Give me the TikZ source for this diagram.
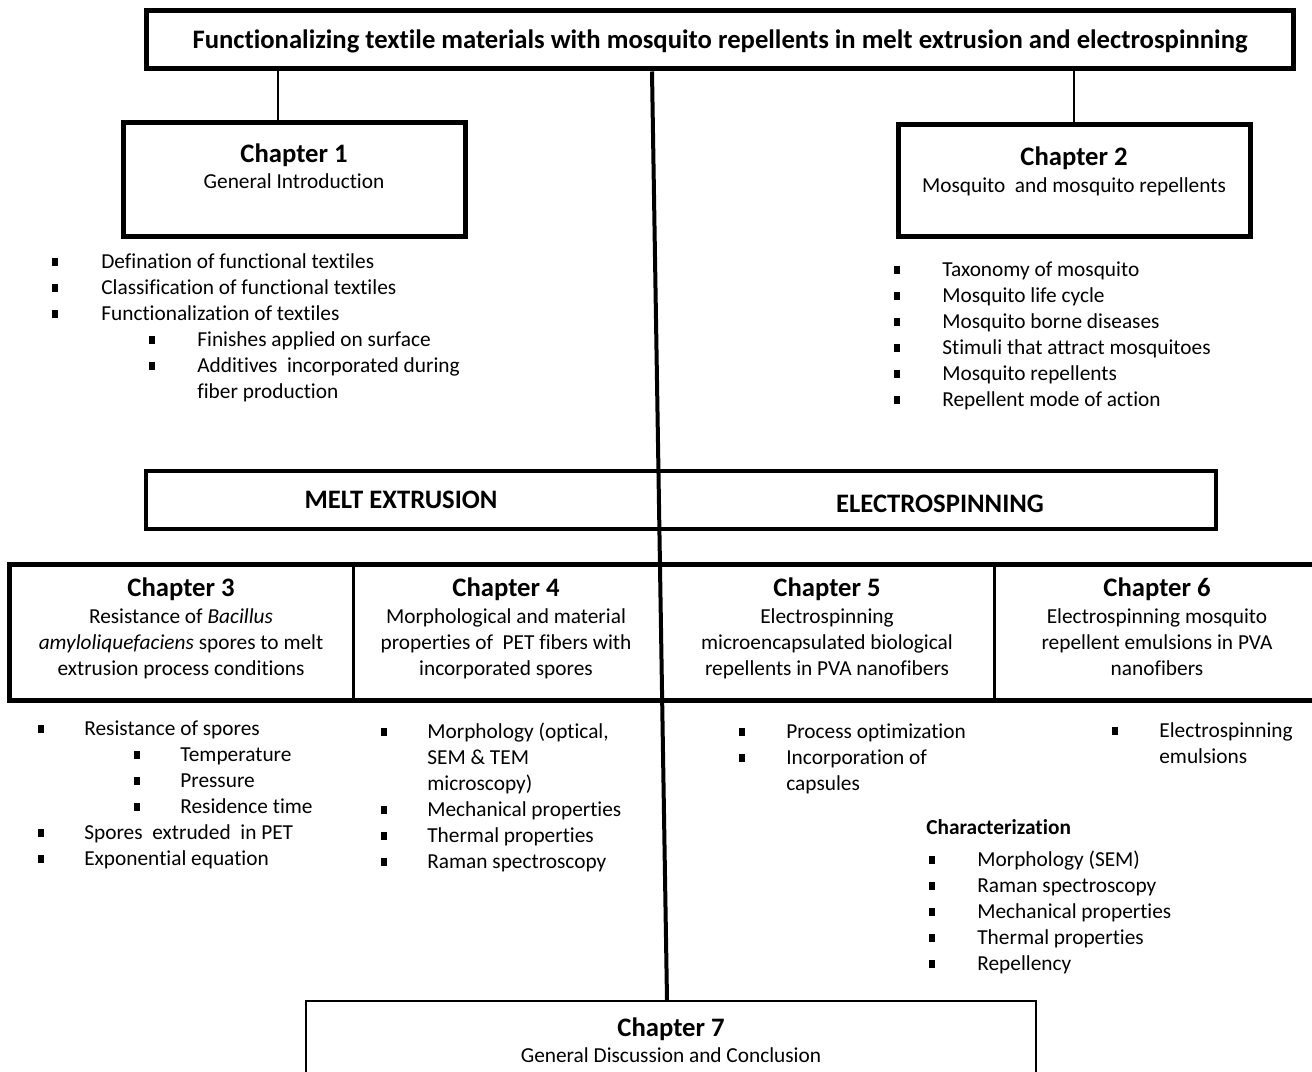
\documentclass[tikz,border=0pt]{standalone}
\usepackage{fontspec}
\setmainfont{Carlito}[Ligatures=NoCommon]
\usetikzlibrary{fit,calc}

\tikzset{
  boxline/.style={draw,line width=#1,inner sep=0pt},
  txt/.style={inner sep=0pt,text height=8pt,text depth=0pt,font=\fontsize{12.8}{15.6}\selectfont},
  hd/.style={inner sep=0pt,text height=10pt,text depth=0pt,font=\fontsize{16}{18}\selectfont\bfseries},
  bul/.style={fill,inner sep=0pt,minimum width=3.2pt,minimum height=4.4pt},
}

\begin{document}
\begin{tikzpicture}[x=0.6pt,y=-0.6pt]
  \useasboundingbox (0,0) rectangle (1312,1072);
  \fill[white] (0,0) rectangle (1312,1072);
  \clip (0,0) rectangle (1312,1072);

  % boxes
  \node[fit={(146,11) (1293,69)},boxline=3pt] (title) {};
  \node[fit={(123,123) (465,237)},boxline=3pt] (ch1) {};
  \node[fit={(898,125) (1250,237)},boxline=3pt] (ch2) {};
  \node[fit={(146,471) (1216,529)},boxline=2.4pt] (method) {};
  \node[fit={(9,565) (1340,701)},boxline=3pt] (row) {};
  \node[fit={(306,1001) (1036,1090)},boxline=1.2pt] (ch7) {};

  \node[hd] (titletxt) at (720,40)
    {Functionalizing textile materials with mosquito repellents in melt extrusion and electrospinning};

  % connectors
  \coordinate (c1) at (278,0);
  \coordinate (c2) at (1074,0);
  \coordinate (s1) at (652,0);
  \coordinate (s2) at (667,0);
  \coordinate (d34) at (353,0);
  \coordinate (d56) at (994,0);
  \draw[line width=1.6pt] (title.south -| c1) -- (ch1.north -| c1);
  \draw[line width=1.6pt] (title.south -| c2) -- (ch2.north -| c2);
  \draw[line width=1.8pt] (row.north -| d34) -- (row.south -| d34);
  \draw[line width=1.8pt] (row.north -| d56) -- (row.south -| d56);
  \draw[line width=2.4pt] (title.south -| s1) -- (ch7.north -| s2);

  % chapter titles
  \node[hd] (h1) at (294,154) {Chapter 1};
  \node[txt] (s1t) at (294,182) {General Introduction};
  \node[hd] (h2) at (1074,157) {Chapter 2};
  \node[txt] (s2t) at (1074,186) {Mosquito \ and mosquito repellents};
  \node[hd] (melt) at (401,500) {MELT EXTRUSION};
  \node[hd] (elec) at (940,504) {ELECTROSPINNING};

  \node[hd] (h3) at (181,588) {Chapter 3};
  \foreach \t [count=\i from 0] in {Resistance of \textit{Bacillus},\textit{amyloliquefaciens} spores to melt,extrusion process conditions}
    \node[txt] (s3-\i) at (181,617+26*\i) {\t};
  \node[hd] (h4) at (506,588) {Chapter 4};
  \foreach \t [count=\i from 0] in {Morphological and material,properties of \ PET fibers with,incorporated spores}
    \node[txt] (s4-\i) at (506,617+26*\i) {\t};
  \node[hd] (h5) at (827,588) {Chapter 5};
  \foreach \t [count=\i from 0] in {Electrospinning,microencapsulated biological,repellents in PVA nanofibers}
    \node[txt] (s5-\i) at (827,617+26*\i) {\t};
  \node[hd] (h6) at (1157,588) {Chapter 6};
  \foreach \t [count=\i from 0] in {Electrospinning mosquito,repellent emulsions in PVA,nanofibers}
    \node[txt] (s6-\i) at (1157,617+26*\i) {\t};
  \node[hd] (h7) at (671,1028) {Chapter 7};
  \node[txt] (s7t) at (671,1056) {General Discussion and Conclusion};

  % chapter 1 list
  \foreach \t [count=\i from 0] in {Defination of functional textiles,Classification of functional textiles,Functionalization of textiles}{
    \node[bul] (b1-\i) at (55,262+26*\i) {};
    \node[txt,anchor=west] (l1-\i) at (101,262+26*\i) {\t};
  }
  \node[bul] (b1-3) at (152,340) {};
  \node[txt,anchor=west] (l1-3) at (197,340) {Finishes applied on surface};
  \node[bul] (b1-4) at (152,366) {};
  \node[txt,anchor=west] (l1-4) at (197,366) {Additives \ incorporated during};
  \node[txt,anchor=west] (l1-5) at (197,392) {fiber production};

  % chapter 2 list
  \foreach \t [count=\i from 0] in {Taxonomy of mosquito,Mosquito life cycle,Mosquito borne diseases,Stimuli that attract mosquitoes,Mosquito repellents,Repellent mode of action}{
    \node[bul] (b2-\i) at (897,270+26*\i) {};
    \node[txt,anchor=west] (l2-\i) at (942,270+26*\i) {\t};
  }

  % chapter 3 list
  \node[bul] (b3-0) at (41,729) {};
  \node[txt,anchor=west] (l3-0) at (84,729) {Resistance of spores};
  \foreach \t [count=\i from 1] in {Temperature,Pressure,Residence time}{
    \node[bul] (b3-\i) at (137,729+26*\i) {};
    \node[txt,anchor=west] (l3-\i) at (180,729+26*\i) {\t};
  }
  \node[bul] (b3-4) at (41,833) {};
  \node[txt,anchor=west] (l3-4) at (84,833) {Spores \ extruded \ in PET};
  \node[bul] (b3-5) at (41,859) {};
  \node[txt,anchor=west] (l3-5) at (84,859) {Exponential equation};

  % chapter 4 list
  \node[bul] (b4-0) at (384,732) {};
  \foreach \t [count=\i from 0] in {{Morphology (optical,},SEM \& TEM,microscopy)}
    \node[txt,anchor=west] (m4-\i) at (427,732+26*\i) {\t};
  \foreach \t [count=\i from 1] in {Mechanical properties,Thermal properties,Raman spectroscopy}{
    \node[bul] (b4-\i) at (384,784+26*\i) {};
    \node[txt,anchor=west] (l4-\i) at (427,784+26*\i) {\t};
  }

  % chapter 5 list
  \node[bul] (b5-0) at (742,732) {};
  \node[txt,anchor=west] (l5-0) at (786,732) {Process optimization};
  \node[bul] (b5-1) at (742,758) {};
  \node[txt,anchor=west] (l5-1) at (786,758) {Incorporation of};
  \node[txt,anchor=west] (l5-2) at (786,784) {capsules};

  % chapter 6 list
  \node[bul] (b6-0) at (1115,731) {};
  \node[txt,anchor=west] (l6-0) at (1159,731) {Electrospinning};
  \node[txt,anchor=west] (l6-1) at (1159,757) {emulsions};

  % characterization
  \node[txt,anchor=west,font=\fontsize{12.8}{15.6}\selectfont\bfseries] (char) at (926,828) {Characterization};
  \foreach \t [count=\i from 0] in {Morphology (SEM),Raman spectroscopy,Mechanical properties,Thermal properties,Repellency}{
    \node[bul] (bc-\i) at (932,860+26*\i) {};
    \node[txt,anchor=west] (lc-\i) at (977,860+26*\i) {\t};
  }
\end{tikzpicture}
\end{document}
